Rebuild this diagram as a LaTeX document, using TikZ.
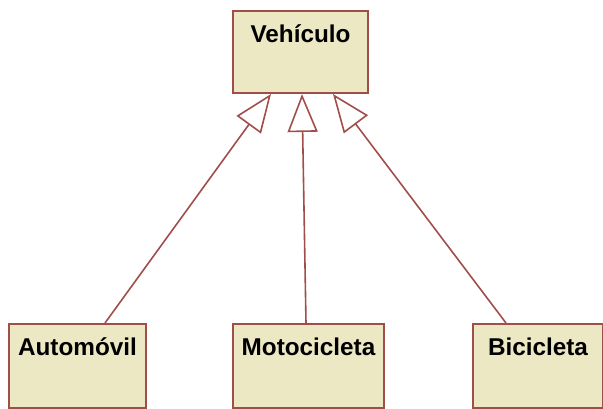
\documentclass[tikz,border=0pt]{standalone}
\usepackage{fontspec}
\setmainfont{Liberation Sans}
\usetikzlibrary{arrows.meta,calc}
\definecolor{umlfill}{RGB}{236,232,196}
\definecolor{umlline}{RGB}{160,78,74}
\begin{document}
\begin{tikzpicture}[x=1pt,y=-1pt,
  cls/.style={draw=umlline, fill=umlfill, line width=2pt, anchor=north west, inner sep=0pt},
  clsname/.style={font=\fontsize{24.3}{29}\selectfont\bfseries, text=black, inner sep=0pt},
  gen/.style={draw=umlline, line width=1.6pt, -{Triangle[open, length=38pt, width=30pt, line width=1.6pt]}}]
\useasboundingbox (0,0) rectangle (603,409);
\node[cls, minimum width=135pt, minimum height=82pt] (veh) at (232,10) {};
\node[cls, minimum width=137pt, minimum height=84pt] (auto) at (8,323) {};
\node[cls, minimum width=151pt, minimum height=84pt] (moto) at (232,323) {};
\node[cls, minimum width=130pt, minimum height=84pt] (bici) at (472,323) {};
\node[clsname] (vehT) at ($(veh.north)+(0,24)$) {Vehículo};
\node[clsname] (autoT) at ($(auto.north)+(0,24)$) {Automóvil};
\node[clsname] (motoT) at ($(moto.north)+(0,24)$) {Motocicleta};
\node[clsname] (biciT) at ($(bici.north)+(0,24)$) {Bicicleta};
\coordinate (va) at ($(veh.south west)+(39,0)$);
\coordinate (vm) at ($(veh.south west)+(70,0)$);
\coordinate (vb) at ($(veh.south west)+(101,0)$);
\coordinate (aa) at ($(auto.north west)+(97,0)$);
\coordinate (ma) at ($(moto.north west)+(74,0)$);
\coordinate (ba) at ($(bici.north west)+(34,0)$);
\draw[gen] (aa) -- (va);
\draw[gen] (ma) -- (vm);
\draw[gen] (ba) -- (vb);
\end{tikzpicture}
\end{document}
